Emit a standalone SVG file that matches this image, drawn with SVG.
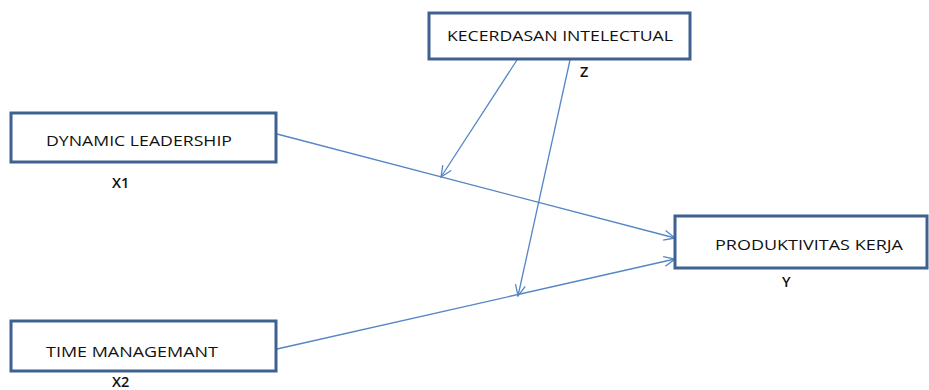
<svg xmlns="http://www.w3.org/2000/svg" width="929" height="390" viewBox="0 0 929 390">
<style>
.box{fill:#fff;stroke:#3f6190;stroke-width:3}
.t{font-family:"Open Sans","Liberation Sans",sans-serif;font-size:14.5px;fill:#111}
.l{font-weight:600}
.c{stroke:#5585c5;stroke-width:1.3;fill:none}
</style>
<defs>
<marker id="a" markerWidth="14" markerHeight="12" refX="12" refY="6" orient="auto" markerUnits="userSpaceOnUse">
<path d="M1,1 L12,6 L1,11" fill="none" stroke="#5585c5" stroke-width="1.3"/>
</marker>
</defs>
<rect width="929" height="390" fill="#fff"/>
<g id="connectors">
<line class="c" x1="277" y1="134" x2="675" y2="238" marker-end="url(#a)"/>
<line class="c" x1="277" y1="349" x2="675" y2="259" marker-end="url(#a)"/>
<line class="c" x1="517" y1="60" x2="441" y2="177" marker-end="url(#a)"/>
<line class="c" x1="570" y1="60" x2="518" y2="296" marker-end="url(#a)"/>
</g>
<g id="kecerdasan">
<rect class="box" x="429" y="13" width="261" height="46"/>
<text class="t" x="447" y="41" textLength="226" lengthAdjust="spacingAndGlyphs">KECERDASAN INTELECTUAL</text>
<text class="t l" x="580" y="77">Z</text>
</g>
<g id="dynamic">
<rect class="box" x="11" y="113" width="265" height="49"/>
<text class="t" x="46" y="146" textLength="186" lengthAdjust="spacingAndGlyphs">DYNAMIC LEADERSHIP</text>
<text class="t l" x="112" y="188">X1</text>
</g>
<g id="produktivitas">
<rect class="box" x="675" y="216" width="252" height="52"/>
<text class="t" x="715" y="250" textLength="188" lengthAdjust="spacingAndGlyphs">PRODUKTIVITAS KERJA</text>
<text class="t l" x="782" y="287">Y</text>
</g>
<g id="time">
<rect class="box" x="11" y="321" width="265" height="50"/>
<text class="t" x="46" y="357" textLength="172" lengthAdjust="spacingAndGlyphs">TIME MANAGEMANT</text>
<text class="t l" x="112" y="387">X2</text>
</g>
</svg>
